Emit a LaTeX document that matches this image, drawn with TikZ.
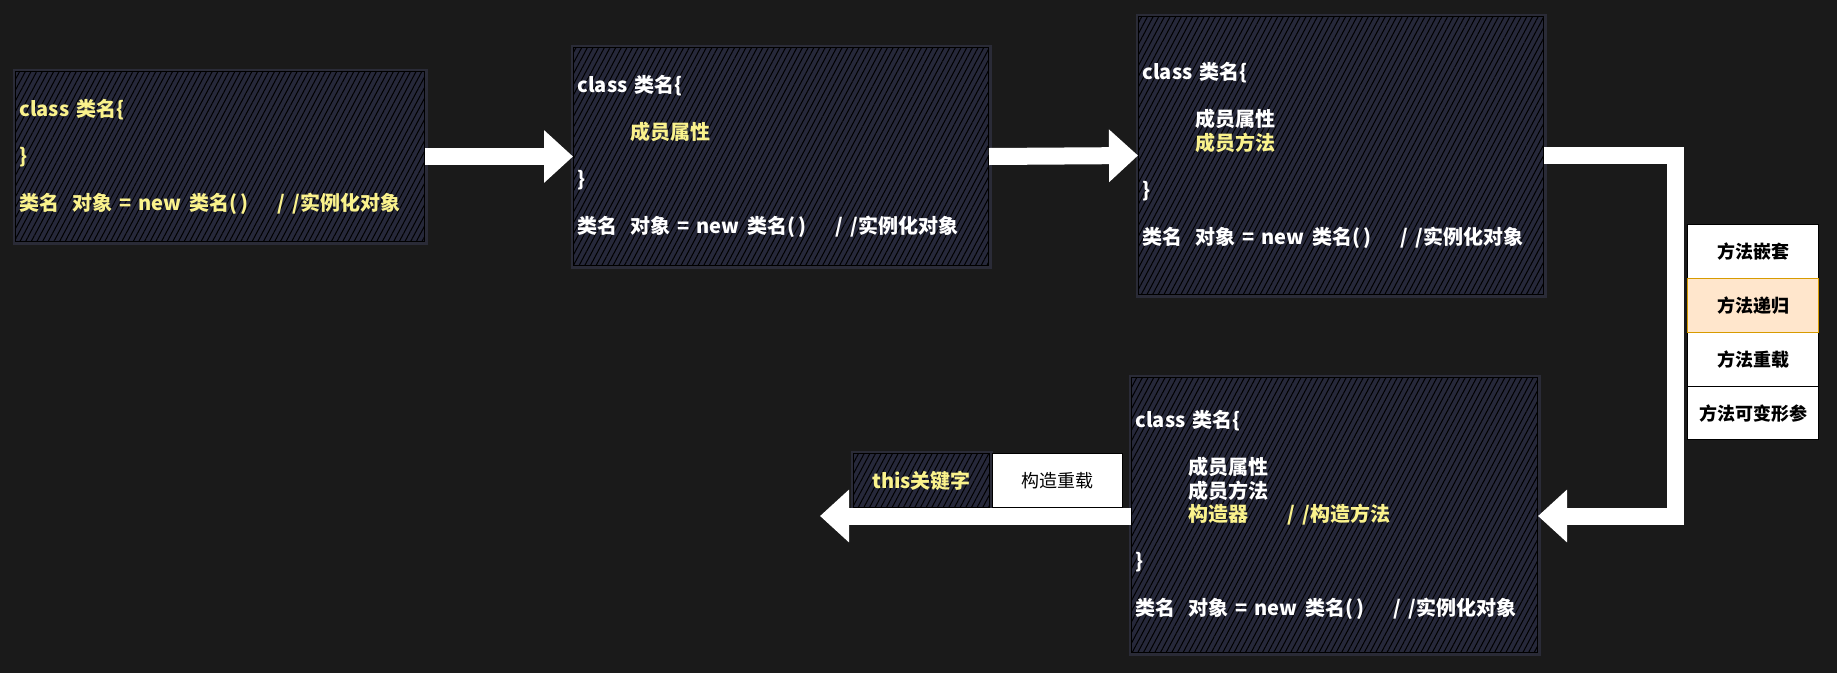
\documentclass[tikz,border=0pt]{standalone}
\usepackage{fontspec}
\setmainfont{Noto Sans CJK SC}
\usetikzlibrary{arrows.meta,patterns.meta,calc}
\definecolor{bg}{RGB}{26,26,26}
\definecolor{boxfill}{RGB}{38,40,58}
\definecolor{glowc}{RGB}{62,64,92}
\definecolor{ylw}{RGB}{250,242,140}
\definecolor{orfill}{RGB}{255,230,204}
\definecolor{ordraw}{RGB}{215,155,0}
\newcommand{\yl}[1]{\textcolor{ylw}{#1}}
\newcommand{\ind}{\hspace*{53pt}}
\newcommand{\inst}{类名\ \ 对象 = new\hspace{1.5pt} 类名(\hspace{3pt})\hspace{29pt}/\hspace{7pt}/\hspace{1pt}实例化对象}
\begin{document}
\begin{tikzpicture}[x=1pt,y=-1pt,
  hatchbox/.style={draw=black, line width=1pt,
    preaction={draw=glowc, line width=6pt, opacity=0.45},
    preaction={fill=boxfill},
    pattern={Lines[angle=62,distance=5pt,line width=1pt]}, pattern color=black,
    anchor=north west, inner xsep=4pt, inner ysep=0pt},
  codebox/.style={hatchbox, text=white, align=left,
    font=\fontsize{20}{23.5}\selectfont\bfseries,
    minimum width=#1, text width=#1-8pt},
  listbox/.style={fill=white, draw=black, line width=1.2pt, anchor=north west,
    minimum width=131pt, minimum height=54pt, inner sep=0pt,
    font=\fontsize{18}{20}\selectfont\bfseries, text=black},
  fatarrow/.style={draw=white, line width=17pt, line join=miter,
    -{Triangle[width=51pt,length=29pt]}}
]
\fill[bg] (0,0) rectangle (1837,673);
\useasboundingbox (0,0) rectangle (1837,673);

% code boxes
\node[codebox=409pt, minimum height=170pt, text=ylw] (b1) at (15,71)
  {class 类名\{\\[23.5pt]\}\\[23.5pt]\inst};
\node[codebox=415pt, minimum height=218pt] (b2) at (573,47)
  {class 类名\{\\[23.5pt]\ind\yl{成员属性}\\[23.5pt]\}\\[23.5pt]\inst};
\node[codebox=405pt, minimum height=278pt] (b3) at (1138,16)
  {class 类名\{\\[23.5pt]\ind 成员属性\\\ind\yl{成员方法}\\[23.5pt]\}\\[23.5pt]\inst};
\node[codebox=406pt, minimum height=275pt] (b4) at (1131,377)
  {class 类名\{\\[23.5pt]\ind 成员属性\\\ind 成员方法\\\ind\yl{构造器\hspace{39pt}/\hspace{7pt}/\hspace{1pt}构造方法}\\[23.5pt]\}\\[23.5pt]\inst};

% method list
\node[listbox] (l1) at (1687,224) {方法嵌套};
\node[listbox] (l3) at (1687,332) {方法重载};
\node[listbox, minimum height=53pt] (l4) at (1687,386) {方法可变形参};
\node[listbox, fill=orfill, draw=ordraw] (l2) at (1687,278) {方法递归};

% constructor-related boxes
\node[hatchbox, minimum width=136pt, minimum height=54pt, text=ylw,
  font=\fontsize{20}{22}\selectfont\bfseries] (th) at (853,453) {this关键字};
\node[listbox, minimum width=130pt, font=\fontsize{18}{20}\selectfont] (cz) at (992,453) {构造重载};

% arrows
\coordinate (bend) at (1675,516);
\coordinate (tip) at (820,516);
\draw[fatarrow] (b1.east) -- (b2.west);
\draw[fatarrow] (b2.east) -- (b3.west);
\draw[fatarrow] (b3.east) -| (bend) -- (b4.east |- bend);
\draw[fatarrow] (b4.west |- tip) -- (tip);
\end{tikzpicture}
\end{document}
